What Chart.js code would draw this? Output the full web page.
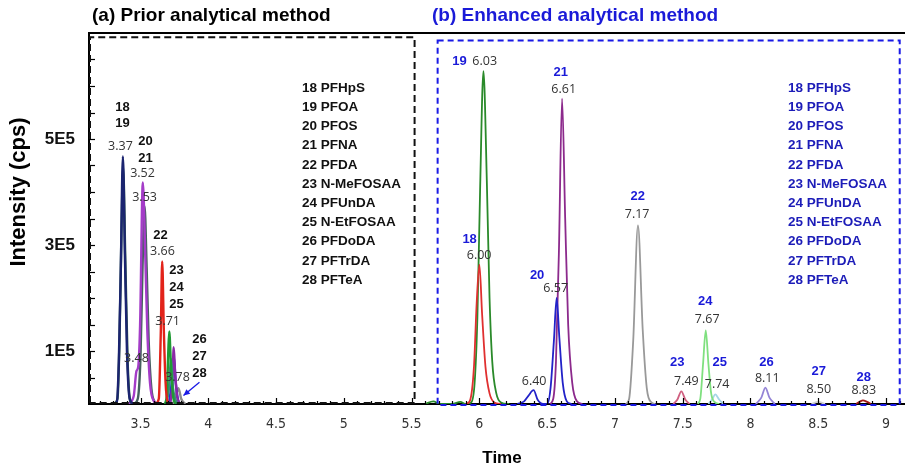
<!DOCTYPE html>
<html>
<head>
<meta charset="utf-8">
<script src="https://cdn.jsdelivr.net/npm/chart.js@4.4.0/dist/chart.umd.min.js"></script>
<style>
  html, body { margin: 0; padding: 0; background: #fff; }
</style>
</head>
<body>
<canvas id="chromChart" width="905" height="469"></canvas>
<script>
// tick labels
const timeTicks = [3.5, 4, 4.5, 5, 5.5, 6, 6.5, 7, 7.5, 8, 8.5, 9];
const intensityTicks = [100000, 300000, 500000];

const compoundIds = [18, 19, 20, 21, 22, 23, 24, 25, 26, 27, 28];
const compoundNames = ['PFHpS', 'PFOA', 'PFOS', 'PFNA', 'PFDA', 'N-MeFOSAA',
  'PFUnDA', 'N-EtFOSAA', 'PFDoDA', 'PFTrDA', 'PFTeA'];

// (a) prior method traces, [time (min), intensity (cps)]
const prior18 = [[3.29, 0], [3.325, 4000], [3.34, 80000], [3.355, 260000], [3.37, 467000], [3.385, 280000], [3.40, 100000], [3.42, 10000], [3.45, 0]];
const prior19 = [[3.30, 0], [3.33, 10000], [3.345, 120000], [3.36, 330000], [3.372, 445000], [3.388, 270000], [3.405, 80000], [3.425, 5000], [3.45, 0]];
const prior20 = [[3.41, 0], [3.45, 15000], [3.47, 62000], [3.483, 70000], [3.497, 150000], [3.517, 418000], [3.535, 280000], [3.55, 140000], [3.57, 40000], [3.60, 5000], [3.63, 0]];
const prior21 = [[3.45, 0], [3.48, 10000], [3.50, 90000], [3.515, 260000], [3.53, 373000], [3.545, 260000], [3.56, 120000], [3.58, 30000], [3.61, 0]];
const prior22 = [[3.61, 0], [3.635, 10000], [3.65, 140000], [3.66, 269000], [3.672, 140000], [3.685, 40000], [3.70, 5000], [3.72, 0]];
const prior23 = [[3.68, 0], [3.695, 20000], [3.705, 100000], [3.712, 137000], [3.725, 70000], [3.74, 15000], [3.76, 0]];
const prior24 = [[3.69, 0], [3.71, 30000], [3.725, 85000], [3.74, 30000], [3.77, 0]];
const prior26 = [[3.71, 0], [3.73, 40000], [3.745, 90000], [3.76, 40000], [3.78, 5000], [3.80, 0]];
const prior27 = [[3.72, 0], [3.735, 40000], [3.745, 107000], [3.755, 60000], [3.77, 15000], [3.79, 0]];
const prior28 = [[3.74, 0], [3.76, 15000], [3.78, 30000], [3.80, 10000], [3.83, 0]];

// (b) enhanced method traces
const enh18 = [[5.90, 0], [5.93, 6000], [5.96, 70000], [5.98, 190000], [6.00, 263000], [6.02, 170000], [6.045, 70000], [6.075, 20000], [6.11, 3000], [6.16, 0]];
const enh19 = [[5.60, 0], [5.66, 5000], [5.71, 0], [5.80, 0], [5.86, 4000], [5.90, 0], [5.94, 3000], [5.965, 40000], [5.985, 160000], [6.005, 400000], [6.03, 628000], [6.055, 420000], [6.075, 200000], [6.095, 80000], [6.125, 20000], [6.16, 3000], [6.22, 0]];
const enh20 = [[6.28, 0], [6.33, 5000], [6.36, 15000], [6.40, 26000], [6.43, 8000], [6.47, 0], [6.50, 0], [6.525, 30000], [6.55, 120000], [6.57, 200000], [6.59, 125000], [6.615, 40000], [6.645, 5000], [6.68, 0]];
const enh21 = [[6.52, 0], [6.545, 10000], [6.565, 80000], [6.587, 290000], [6.61, 576000], [6.633, 350000], [6.655, 150000], [6.685, 40000], [6.72, 5000], [6.76, 0]];
const enh22 = [[7.08, 0], [7.105, 10000], [7.135, 120000], [7.17, 337000], [7.205, 140000], [7.235, 30000], [7.27, 3000], [7.30, 0]];
const enh23 = [[7.43, 0], [7.46, 8000], [7.49, 24000], [7.52, 8000], [7.55, 0]];
const enh24 = [[7.61, 0], [7.63, 10000], [7.65, 75000], [7.67, 139000], [7.69, 75000], [7.71, 20000], [7.74, 3000], [7.77, 0]];
const enh25 = [[7.69, 0], [7.72, 10000], [7.74, 18000], [7.77, 8000], [7.80, 0]];
const enh26 = [[8.04, 0], [8.08, 12000], [8.11, 31000], [8.14, 12000], [8.18, 0]];
const enh27 = [[8.45, 0], [8.50, 4000], [8.55, 0]];
const enh28 = [[8.78, 0], [8.81, 5000], [8.83, 7000], [8.86, 4000], [8.89, 0]];

// peak labels: [text, time, intensity, kind]
const priorLabels = [
  ['18', 3.367, 559000, 'id'], ['19', 3.367, 529000, 'id'], ['3.37', 3.352, 486000, 'rt'],
  ['20', 3.537, 495000, 'id'], ['21', 3.537, 463000, 'id'], ['3.52', 3.515, 435000, 'rt'],
  ['3.53', 3.53, 390000, 'rt'], ['22', 3.648, 318000, 'id'], ['3.66', 3.662, 288000, 'rt'],
  ['23', 3.766, 252000, 'id'], ['24', 3.766, 220000, 'id'], ['25', 3.766, 188000, 'id'],
  ['3.71', 3.70, 156000, 'rt'], ['26', 3.935, 122000, 'id'], ['27', 3.935, 90000, 'id'],
  ['28', 3.935, 58000, 'id'], ['3.78', 3.773, 50000, 'rt'], ['3.48', 3.47, 86000, 'rt']
];
const enhLabels = [
  ['19', 5.854, 646000, 'id'], ['6.03', 6.039, 646000, 'rt'],
  ['21', 6.60, 625000, 'id'], ['6.61', 6.622, 593000, 'rt'],
  ['18', 5.928, 310000, 'id'], ['6.00', 5.998, 280000, 'rt'],
  ['20', 6.426, 242000, 'id'], ['6.57', 6.563, 218000, 'rt'],
  ['6.40', 6.404, 42000, 'rt'],
  ['22', 7.168, 392000, 'id'], ['7.17', 7.164, 358000, 'rt'],
  ['23', 7.46, 78000, 'id'], ['7.49', 7.527, 43000, 'rt'],
  ['24', 7.666, 194000, 'id'], ['7.67', 7.681, 159000, 'rt'],
  ['25', 7.773, 79000, 'id'], ['7.74', 7.754, 37000, 'rt'],
  ['26', 8.118, 79000, 'id'], ['8.11', 8.124, 49000, 'rt'],
  ['27', 8.504, 62000, 'id'], ['8.50', 8.504, 27000, 'rt'],
  ['28', 8.836, 51000, 'id'], ['8.83', 8.836, 26000, 'rt']
];

const BOLD = "'Liberation Sans', Arial, sans-serif";
const NUM = "'Open Sans', 'Liberation Sans', sans-serif";
const BLUE = '#1a1ad8';

function trace(pts, color, width) {
  return {
    data: pts.map(p => ({ x: p[0], y: p[1] })),
    borderColor: color,
    borderWidth: width,
    pointRadius: 0,
    fill: false,
    cubicInterpolationMode: 'monotone'
  };
}

const datasets = [
  trace(prior18, '#1b2470', 2.4), trace(prior19, '#2c5a48', 2.4),
  trace(prior20, '#a43cc8', 2.4), trace(prior21, '#45605e', 2.4),
  trace(prior22, '#e2231a', 2.4), trace(prior23, '#1f9a34', 2.4),
  trace(prior24, '#3a8a7a', 2.4), trace(prior27, '#8a2aa6', 2.4),
  trace(prior26, '#2424e0', 2.4), trace(prior28, '#8a8a8a', 2.4),
  trace(enh18, '#e03030', 1.8), trace(enh19, '#2a8a2a', 1.8),
  trace(enh20, '#2222c8', 1.8), trace(enh21, '#8c2a8c', 1.8),
  trace(enh22, '#999999', 1.8), trace(enh23, '#d06080', 1.8),
  trace(enh24, '#7fe07f', 1.8), trace(enh25, '#a6d6e6', 1.8),
  trace(enh26, '#9484d6', 1.8), trace(enh27, '#cfcfcf', 1.8),
  trace(enh28, '#a01818', 1.8)
];

const overlay = {
  id: 'overlay',
  afterDraw(chart) {
    const { ctx, chartArea: area, scales: { x, y } } = chart;
    ctx.save();

    // top frame line
    ctx.strokeStyle = '#000';
    ctx.lineWidth = 2;
    ctx.beginPath();
    ctx.moveTo(area.left, area.top);
    ctx.lineTo(area.right, area.top);
    ctx.stroke();

    // inward tick marks
    ctx.lineWidth = 1.2;
    for (let v = 50000; v < 700000; v += 50000) {
      const py = Math.round(y.getPixelForValue(v)) + 0.5;
      ctx.beginPath();
      ctx.moveTo(area.left, py);
      ctx.lineTo(area.left + 6, py);
      ctx.stroke();
    }
    for (let k = 32; k <= 91; k++) {
      const t = k / 10;
      const px = Math.round(x.getPixelForValue(t)) + 0.5;
      const len = k % 5 === 0 ? 6 : 3;
      ctx.beginPath();
      ctx.moveTo(px, area.bottom);
      ctx.lineTo(px, area.bottom - len);
      ctx.stroke();
    }

    // dashed boxes
    ctx.lineWidth = 2;
    ctx.setLineDash([7, 4]);
    ctx.strokeStyle = '#111';
    ctx.beginPath();
    const ax1 = x.getPixelForValue(5.522), ay0 = y.getPixelForValue(692000);
    ctx.moveTo(area.left + 1, area.bottom - 1);
    ctx.lineTo(area.left + 1, ay0);
    ctx.lineTo(ax1, ay0);
    ctx.lineTo(ax1, area.bottom - 1);
    ctx.lineTo(area.left + 1, area.bottom - 1);
    ctx.stroke();

    ctx.strokeStyle = '#1a1ae6';
    ctx.setLineDash([6, 4]);
    const bx0 = x.getPixelForValue(5.692), bx1 = x.getPixelForValue(9.101);
    const by0 = y.getPixelForValue(686000), by1 = y.getPixelForValue(-2000);
    ctx.strokeRect(bx0, by0, bx1 - bx0, by1 - by0);
    ctx.setLineDash([]);

    // peak labels
    ctx.textAlign = 'center';
    ctx.textBaseline = 'middle';
    const drawLabels = (list, idColor) => {
      list.forEach(([text, t, v, kind]) => {
        if (kind === 'id') {
          ctx.font = "bold 13px " + BOLD;
          ctx.fillStyle = idColor;
        } else {
          ctx.font = "12.5px " + NUM;
          ctx.fillStyle = '#333';
        }
        ctx.fillText(text, x.getPixelForValue(t), y.getPixelForValue(v));
      });
    };
    drawLabels(priorLabels, '#111');
    drawLabels(enhLabels, BLUE);

    // arrow toward the late peaks in (a)
    const ax = x.getPixelForValue(3.935), ay = y.getPixelForValue(41000);
    const tx = x.getPixelForValue(3.817), ty = y.getPixelForValue(16000);
    ctx.strokeStyle = '#1a1ae6';
    ctx.fillStyle = '#1a1ae6';
    ctx.lineWidth = 1.3;
    ctx.beginPath();
    ctx.moveTo(ax, ay);
    ctx.lineTo(tx, ty);
    ctx.stroke();
    const ang = Math.atan2(ty - ay, tx - ax);
    ctx.beginPath();
    ctx.moveTo(tx, ty);
    ctx.lineTo(tx - 7 * Math.cos(ang - 0.45), ty - 7 * Math.sin(ang - 0.45));
    ctx.lineTo(tx - 7 * Math.cos(ang + 0.45), ty - 7 * Math.sin(ang + 0.45));
    ctx.closePath();
    ctx.fill();

    // compound lists
    ctx.textAlign = 'left';
    ctx.font = "bold 13.5px " + BOLD;
    compoundIds.forEach((id, i) => {
      const rowY = 88 + i * 19.2;
      ctx.fillStyle = '#111';
      ctx.fillText(id + ' ' + compoundNames[i], 302, rowY);
      ctx.fillStyle = '#1c1cb8';
      ctx.fillText(id + ' ' + compoundNames[i], 788, rowY);
    });

    // panel titles
    ctx.font = "bold 19px " + BOLD;
    ctx.fillStyle = '#000';
    ctx.fillText('(a) Prior analytical method', 92, 16);
    ctx.fillStyle = BLUE;
    ctx.fillText('(b) Enhanced analytical method', 432, 16);

    // axis titles
    ctx.fillStyle = '#000';
    ctx.textAlign = 'center';
    ctx.font = "bold 17px " + BOLD;
    ctx.fillText('Time', (area.left + area.right) / 2 + 5, 458);
    ctx.save();
    ctx.translate(19, 192);
    ctx.rotate(-Math.PI / 2);
    ctx.font = "bold 22px " + BOLD;
    ctx.fillText('Intensity (cps)', 0, 0);
    ctx.restore();

    ctx.restore();
  }
};

new Chart(document.getElementById('chromChart'), {
  type: 'line',
  data: { datasets },
  plugins: [overlay],
  options: {
    responsive: false,
    animation: false,
    layout: { padding: { top: 33, right: 0, left: 0, bottom: 0 } },
    plugins: { legend: { display: false }, tooltip: { enabled: false } },
    scales: {
      x: {
        type: 'linear',
        min: 3.12,
        max: 9.14,
        afterBuildTicks: s => { s.ticks = timeTicks.map(v => ({ value: v })); },
        afterFit: s => { s.height = 65; },
        grid: { display: false },
        border: { display: true, color: '#000', width: 2 },
        ticks: {
          autoSkip: false,
          maxRotation: 0,
          padding: 4,
          color: '#333',
          font: { family: "'Liberation Sans Narrow', 'DejaVu Sans Condensed', sans-serif", size: 14 },
          callback: v => String(v)
        }
      },
      y: {
        type: 'linear',
        min: 0,
        max: 700000,
        afterBuildTicks: s => { s.ticks = intensityTicks.map(v => ({ value: v })); },
        afterFit: s => { s.width = 89; },
        grid: { display: false },
        border: { display: true, color: '#000', width: 2 },
        ticks: {
          autoSkip: false,
          padding: 6,
          color: '#111',
          font: { family: BOLD, size: 17, weight: 'bold' },
          callback: v => (v / 100000) + 'E5'
        }
      }
    }
  }
});
</script>
</body>
</html>
